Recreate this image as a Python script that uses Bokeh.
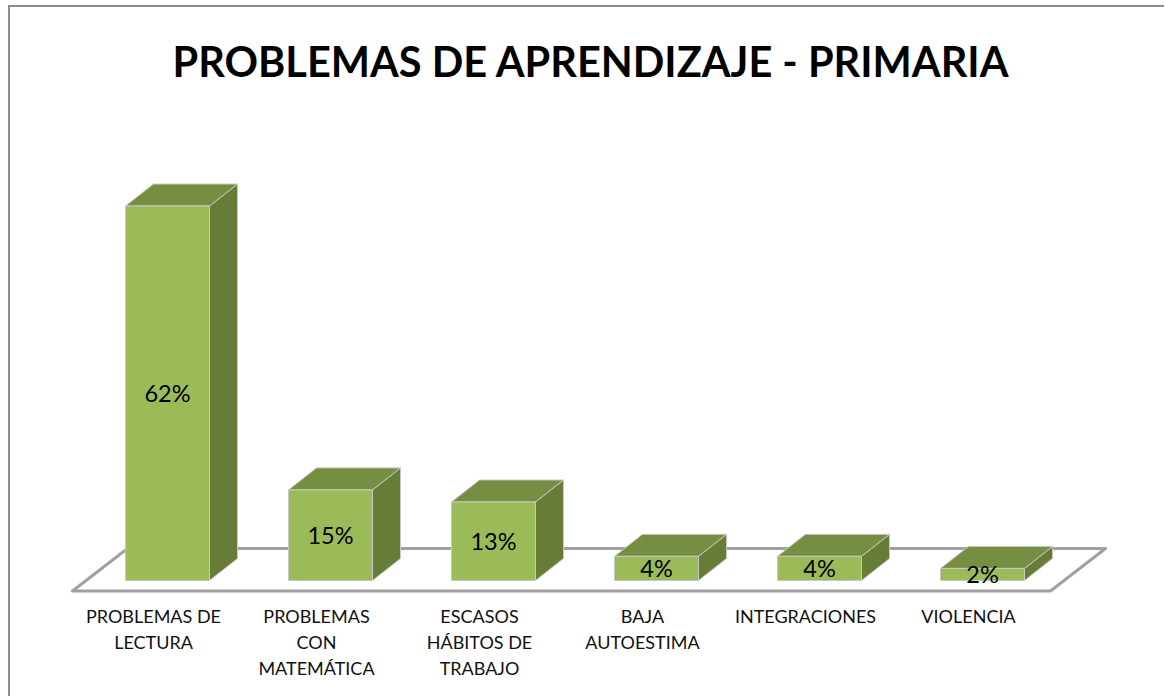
from bokeh.plotting import figure
from bokeh.models import Range1d, FixedTicker, ColumnDataSource
from bokeh.core.properties import value
from bokeh.embed import file_html
from bokeh.resources import INLINE

title = "PROBLEMAS DE APRENDIZAJE - PRIMARIA"
categories = ["PROBLEMAS DE\nLECTURA", "PROBLEMAS\nCON\nMATEMÁTICA", "ESCASOS\nHÁBITOS DE\nTRABAJO",
              "BAJA\nAUTOESTIMA", "INTEGRACIONES", "VIOLENCIA"]
percent = [62, 15, 13, 4, 4, 2]
value_labels = ["62%", "15%", "13%", "4%", "4%", "2%"]

FONT = "Lato"
W, H = 1156, 691
LEFT, TOP = 10, 7            # page position of the drawing area
FRAME_BOTTOM = 596
FRAME_TOP = 100
PX_X, PX_Y = 163.0, 6.04     # pixels per category / per percent
X0, Y0 = 153.0, 580.0        # page position of category 0 label / of 0%

x_range = Range1d((LEFT - X0) / PX_X, (LEFT + W - X0) / PX_X)
y_range = Range1d((Y0 - FRAME_BOTTOM) / PX_Y, (Y0 - FRAME_TOP) / PX_Y)

p = figure(width=W, height=H, x_range=x_range, y_range=y_range, output_backend="svg",
           toolbar_location=None, tools="", min_border_left=0, min_border_right=0,
           min_border_top=FRAME_TOP - TOP, min_border_bottom=TOP + H - FRAME_BOTTOM,
           outline_line_color=None, background_fill_color="white", border_fill_color="white",
           margin=(5, 0, 0, 8))
p.styles = {"border-top": "2px solid #8c8c8c", "border-left": "2px solid #8c8c8c"}

p.title.text = title
p.title.text_font = FONT
p.title.text_font_style = "bold"
p.title.text_font_size = "41.5px"
p.title.text_color = "black"
p.title.align = "left"
p.title.standoff = 30
p.title.offset = 162

p.yaxis.visible = False
p.grid.visible = False
ax = p.xaxis[0]
ax.ticker = FixedTicker(ticks=list(range(len(categories))))
ax.major_label_overrides = {i: c for i, c in enumerate(categories)}
ax.axis_line_color = None
ax.major_tick_line_color = None
ax.minor_tick_line_color = None
ax.major_label_text_font = FONT
ax.major_label_text_font_size = "18px"
ax.major_label_text_color = "#111111"
ax.major_label_text_line_height = 1.19
ax.major_label_standoff = 2
ax.major_label_orientation = "horizontal"

# 3-D geometry in data units
off = (125 - X0) / PX_X
bw = 84 / PX_X
dx = 28 / PX_X
dy = 22 / PX_Y

# floor
fy = -10.5 / PX_Y
fl = (72 - X0) / PX_X
fr = (1050 - X0) / PX_X
fdx = 55 / PX_X
fdy = 42.5 / PX_Y
p.patch([fl, fr, fr + fdx, fl + fdx], [fy, fy, fy + fdy, fy + fdy], fill_color=None,
        line_color="#a0a0a0", line_width=3, line_join="round")

n = range(len(percent))
xl = [i + off for i in n]
xr = [i + off + bw for i in n]
front = dict(xs=[[xl[i], xr[i], xr[i], xl[i]] for i in n],
             ys=[[0, 0, percent[i], percent[i]] for i in n])
top = dict(xs=[[xl[i], xr[i], xr[i] + dx, xl[i] + dx] for i in n],
           ys=[[percent[i], percent[i], percent[i] + dy, percent[i] + dy] for i in n])
side = dict(xs=[[xr[i], xr[i] + dx, xr[i] + dx, xr[i]] for i in n],
            ys=[[0, dy, percent[i] + dy, percent[i]] for i in n])
edge = "#c8c8c8"
p.patches("xs", "ys", source=ColumnDataSource(side), fill_color="#667c37", line_color=edge, line_width=1)
p.patches("xs", "ys", source=ColumnDataSource(top), fill_color="#758e41", line_color=edge, line_width=1)
p.patches("xs", "ys", source=ColumnDataSource(front), fill_color="#9bbb59", line_color=edge, line_width=1)

p.text([x + bw / 2 for x in xl], [v / 2 for v in percent], text=value_labels,
       text_font=value(FONT), text_font_size="23.5px", text_color="black",
       text_align="center", text_baseline="middle")

open("out.html", "w").write(file_html(p, INLINE))
